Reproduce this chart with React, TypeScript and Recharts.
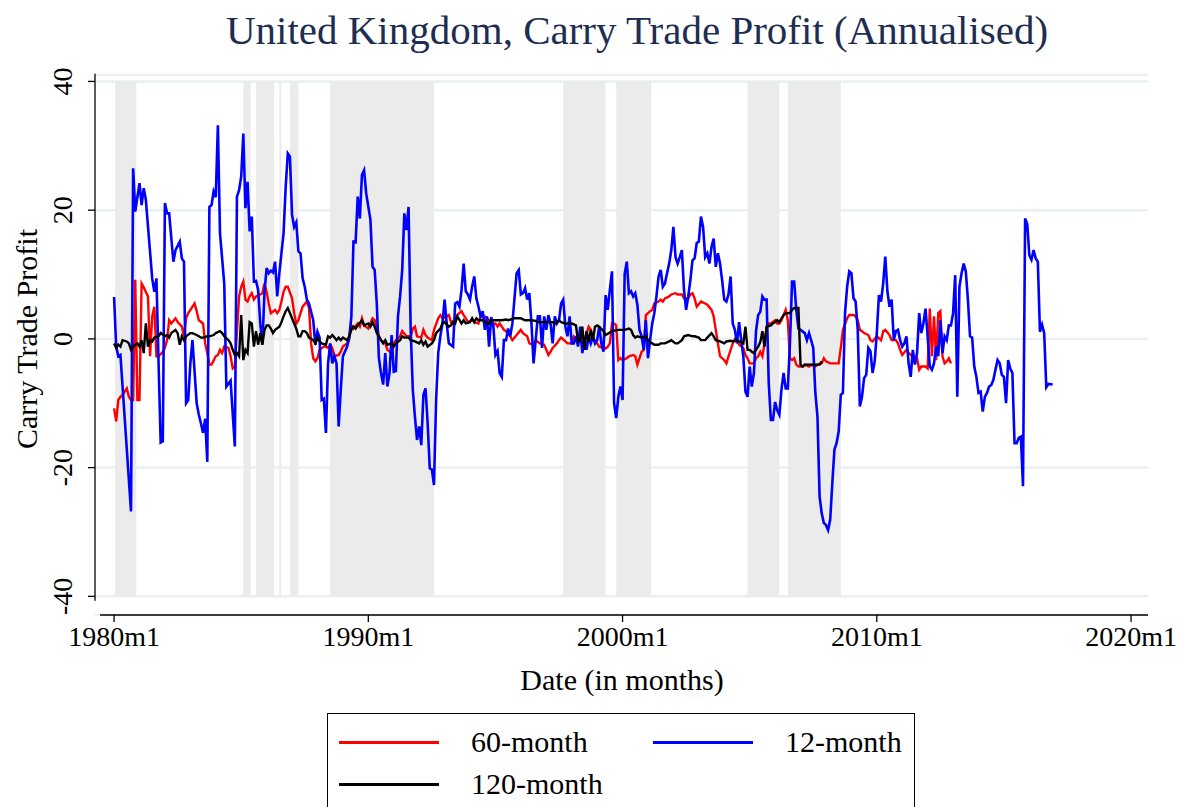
import { LineChart, Line, XAxis, YAxis, CartesianGrid, ReferenceArea, ReferenceLine } from "recharts";

const serif = "'Liberation Serif', 'Times New Roman', Times, serif";

// [months since 1980m1, annualised profit]
const sixtyMonth: [number, number][] = [
  [0, -10.8], [1, -12.8], [2, -9.5], [3, -9.0], [4, -8.7], [6, -7.7], [7, -9.0], [8, -9.5], [9, -9.5], [10, 9.2],
  [11, -9.5], [12, -9.5], [13, 8.6], [14, 8.0], [15, 7.3], [16, 6.6], [17, -2.7], [18, 3.5], [19, 5.0], [20, -2.7],
  [21, -2.7], [23, -2.0], [24, -1.4], [25, -0.2], [26, 2.9], [27, 2.4], [29, 3.2], [30, 2.6], [32, 1.9], [33, 0.4],
  [34, 3.2], [35, 4.0], [36, 4.5], [38, 5.5], [39, 4.3], [40, 2.9], [42, 2.4], [43, -0.7], [44, -2.2], [45, -4.0],
  [46, -4.0], [48, -2.7], [49, -2.5], [50, -1.7], [51, -2.2], [52, -1.2], [54, -1.4], [55, -2.7], [56, -4.6], [57, -4.3],
  [59, 6.6], [60, 8.1], [61, 8.9], [62, 6.1], [63, 5.8], [64, 6.6], [65, 7.1], [66, 6.1], [67, 6.6], [69, 6.9],
  [70, 7.1], [71, 8.6], [72, 7.3], [73, 5.5], [74, 4.0], [76, 4.5], [77, 4.0], [78, 4.5], [79, 5.8], [80, 7.3],
  [81, 8.1], [82, 8.1], [84, 6.3], [85, 4.0], [86, 2.4], [87, 2.9], [88, 4.0], [89, 5.0], [91, 5.8], [92, 4.8],
  [93, -0.7], [94, -3.0], [95, -3.5], [96, -3.0], [97, -1.7], [99, -1.2], [100, -1.2], [101, -1.4], [102, -0.9], [103, -1.4],
  [104, -2.7], [106, -2.5], [107, -2.0], [108, -1.2], [110, -0.7], [111, 0.4], [112, 2.1], [113, 1.6], [115, 2.4], [116, 1.9],
  [117, 3.2], [118, 2.1], [120, 1.6], [122, 3.2], [123, 2.9], [124, 1.9], [125, 0.4], [126, -0.2], [128, -0.7], [129, -1.7],
  [131, -2.2], [132, -0.7], [133, -0.2], [135, 0.4], [136, 1.2], [138, 0.4], [140, 0.4], [141, 1.6], [142, 1.9], [143, 0.4],
  [145, 0.2], [146, 1.4], [147, 0.6], [148, 0.2], [150, -0.2], [151, 1.4], [153, 3.2], [154, 3.7], [155, 3.2], [157, 3.5],
  [158, 3.7], [159, 2.6], [161, 2.9], [162, 3.7], [164, 4.3], [165, 3.7], [166, 3.2], [167, 2.6], [169, 2.9], [170, 2.6],
  [172, 2.4], [173, 3.5], [174, 3.7], [176, 3.2], [177, 2.9], [178, 2.1], [180, 2.4], [181, 1.9], [182, 2.4], [184, 1.4],
  [185, 1.2], [187, 0.4], [188, -0.2], [190, 0.6], [192, 1.4], [193, 0.9], [195, 0.4], [196, -0.7], [198, -0.9], [199, -0.2],
  [201, -0.7], [203, -0.9], [204, -1.7], [205, -2.5], [206, -2.0], [207, -1.4], [209, -0.7], [210, -0.2], [211, 0.2], [213, -0.4],
  [214, -0.7], [216, -0.7], [217, 0.4], [219, -0.2], [221, -0.7], [222, -0.2], [224, 1.9], [225, 1.4], [226, 0.2], [228, -0.7],
  [229, -1.2], [231, -1.4], [232, -1.5], [233, -1.2], [234, -0.7], [235, 2.4], [236, 2.4], [237, 2.1], [238, -3.3], [239, -3.0],
  [240, -3.3], [242, -3.0], [243, -2.7], [245, -2.5], [246, -2.7], [247, -4.0], [248, -3.0], [249, -2.0], [250, -1.7], [251, 3.7],
  [253, 4.3], [254, 4.5], [255, 5.5], [257, 5.8], [258, 6.1], [259, 5.8], [260, 6.3], [262, 6.6], [263, 6.9], [265, 7.1],
  [266, 6.9], [268, 6.9], [269, 6.3], [271, 6.3], [272, 6.9], [273, 7.1], [274, 6.3], [275, 5.0], [277, 5.8], [279, 5.5],
  [280, 5.3], [282, 4.5], [283, 3.5], [284, 1.4], [285, -0.7], [286, -2.7], [288, -3.3], [289, -3.8], [290, -2.7], [292, -0.7],
  [293, 0.0], [294, -0.2], [295, -0.9], [297, -1.4], [298, -2.5], [299, -3.0], [300, -3.8], [302, -3.8], [303, -3.0], [304, -2.7],
  [305, -2.0], [306, -2.7], [307, -0.7], [308, 1.9], [309, 2.4], [310, 2.4], [312, 2.9], [313, 2.4], [314, 2.4], [315, 2.9],
  [317, 4.5], [318, 2.9], [319, -3.0], [320, -3.3], [321, -3.0], [322, -4.0], [323, -4.3], [325, -4.3], [326, -4.0], [328, -4.3],
  [329, -4.0], [331, -4.3], [332, -4.0], [334, -3.8], [335, -3.0], [336, -3.5], [338, -3.8], [339, -3.8], [341, -3.8], [342, -3.8],
  [343, -1.4], [344, 1.4], [346, 3.2], [347, 3.7], [349, 3.7], [350, 3.5], [351, 2.9], [352, 1.4], [353, 1.2], [354, 0.9],
  [356, 0.6], [357, -0.2], [358, -0.4], [360, 0.4], [362, -0.2], [363, 1.2], [364, 1.4], [366, 0.6], [367, -0.2], [369, -0.2],
  [370, -0.7], [371, -1.7], [372, -2.5], [374, -1.7], [375, -2.2], [377, -2.7], [378, -3.0], [379, -3.0], [380, -4.8], [381, -4.3],
  [383, -4.3], [384, -4.6], [385, 4.7], [386, -2.7], [387, 3.5], [388, -3.3], [389, 4.0], [390, 4.3], [391, -2.7], [392, -3.8],
  [393, -3.5], [394, -3.0], [395, -3.8],
];

const twelveMonth: [number, number][] = [
  [0, 6.5], [1, -1.2], [2, -2.7], [3, -2.5], [8, -26.8], [9, 26.5], [10, 19.8], [12, 24.2], [13, 20.8], [14, 23.4],
  [15, 21.6], [18, 9.4], [19, 7.3], [20, 9.4], [21, -3.7], [22, -16.1], [23, -15.9], [24, 21.1], [25, 19.5], [26, 19.5],
  [28, 12.0], [29, 13.8], [31, 15.1], [32, 12.5], [33, 12.0], [34, -10.0], [35, -9.5], [36, -3.8], [37, -0.2], [39, -10.0],
  [40, -11.8], [41, -13.1], [42, -14.6], [43, -12.4], [44, -19.1], [45, 20.5], [46, 20.8], [47, 22.9], [48, 22.0], [49, 33.2],
  [50, 16.4], [52, 8.6], [53, -7.4], [55, -6.5], [57, -16.7], [58, 22.1], [59, 23.1], [60, 25.2], [61, 31.9], [62, 20.3],
  [63, 24.4], [64, 16.7], [65, 19.0], [66, 8.9], [67, 9.0], [68, 7.6], [69, 2.4], [70, -0.9], [71, 7.3], [72, 11.0],
  [73, 10.2], [74, 10.6], [75, 10.3], [76, 12.0], [77, 6.6], [78, 10.2], [80, 16.4], [81, 23.6], [82, 28.8], [83, 28.3],
  [84, 19.3], [85, 17.4], [86, 18.1], [87, 13.6], [88, 13.3], [89, 9.4], [90, 8.1], [91, 6.1], [92, 5.5], [94, 2.9],
  [95, -0.9], [96, 1.1], [97, 0.2], [98, -9.5], [99, -9.3], [100, -14.6], [101, -3.8], [102, -0.7], [103, -3.8], [104, -2.7],
  [105, -3.8], [106, -13.6], [107, -7.9], [108, -2.7], [110, -1.2], [111, 0.1], [112, 3.5], [113, 15.1], [114, 15.0], [115, 22.1],
  [116, 18.7], [117, 25.5], [118, 26.2], [119, 22.6], [121, 18.5], [122, 11.2], [123, 10.7], [124, 5.5], [125, -3.0], [126, -5.3],
  [127, -7.1], [128, -2.2], [129, -7.4], [130, -5.3], [131, 0.6], [132, -5.1], [133, -5.0], [134, 3.5], [135, 6.6], [136, 10.7],
  [137, 19.5], [138, 16.9], [139, 20.5], [140, 1.4], [141, -7.9], [142, -12.1], [143, -15.7], [144, -13.6], [145, -16.5], [146, -8.7],
  [147, -7.7], [148, -13.1], [149, -20.1], [150, -20.3], [151, -22.7], [152, -9.5], [153, -2.2], [154, 0.4], [155, 2.4], [156, 6.1],
  [157, 2.4], [158, -0.7], [160, -1.2], [161, 5.5], [162, 5.7], [163, 5.0], [164, 7.6], [165, 11.7], [166, 7.4], [167, 6.9],
  [168, 6.1], [169, 8.1], [170, 9.7], [171, 6.3], [172, 5.0], [173, 3.5], [174, 4.3], [175, 1.4], [176, 3.5], [177, -1.2],
  [178, 3.4], [179, 2.1], [180, -2.5], [181, -1.9], [182, -5.3], [183, -5.9], [184, -0.2], [185, -0.2], [186, 1.6], [187, 0.4],
  [188, 2.4], [190, 10.2], [191, 10.7], [192, 6.9], [193, 7.1], [194, 7.9], [195, 6.1], [196, 7.1], [197, 2.4], [198, -3.8],
  [199, -0.2], [200, 3.5], [201, 3.5], [202, -1.4], [203, 3.5], [204, 1.4], [205, 3.7], [206, 2.4], [207, -0.7], [208, 3.5],
  [209, 2.4], [210, 2.9], [211, 5.5], [212, 6.1], [213, 1.9], [214, 0.4], [215, 3.5], [216, -0.7], [217, -0.7], [218, 0.4],
  [219, -1.2], [220, 1.9], [221, -2.2], [222, -0.2], [223, -1.7], [224, 0.4], [225, -0.7], [226, 0.4], [227, -0.7], [228, -0.2],
  [229, 1.9], [230, -0.7], [231, -2.0], [232, 6.8], [233, 4.5], [234, 7.6], [235, 10.5], [236, -10.0], [237, -12.3], [238, -9.0],
  [239, -7.4], [240, -9.5], [241, 10.1], [242, 12.0], [243, 7.1], [244, 7.4], [245, 6.6], [246, 7.1], [247, 5.3], [248, 1.4],
  [249, 0.4], [250, -1.7], [251, 2.9], [252, -3.0], [253, -0.2], [254, 2.4], [255, 4.0], [256, 6.6], [257, 9.7], [258, 10.7],
  [259, 8.1], [260, 8.6], [261, 10.2], [262, 11.7], [263, 13.8], [264, 17.4], [265, 12.7], [266, 11.7], [267, 12.7], [268, 13.8],
  [269, 7.6], [270, 4.5], [271, 6.6], [272, 9.1], [273, 12.2], [274, 12.5], [275, 14.9], [276, 15.1], [277, 19.0], [278, 17.4],
  [279, 12.7], [280, 13.3], [281, 11.7], [282, 14.3], [283, 15.6], [284, 11.2], [285, 13.3], [286, 11.7], [287, 9.1], [288, 6.1],
  [289, 5.8], [290, 6.9], [291, 9.7], [292, 2.4], [293, 1.4], [294, -0.7], [295, 2.6], [296, -0.2], [297, -2.7], [298, -8.2],
  [299, -9.0], [300, -4.3], [301, -7.4], [302, -5.3], [303, 1.2], [304, 3.7], [305, 4.2], [306, 6.6], [307, 6.1], [308, 6.1],
  [309, -6.9], [310, -12.6], [311, -12.6], [312, -9.8], [313, -11.1], [314, -11.8], [315, -7.9], [316, -5.3], [317, -7.7], [318, -7.7],
  [319, -0.7], [320, 8.9], [321, 8.9], [322, 4.5], [323, 1.6], [324, 1.4], [326, 0.9], [327, -0.2], [328, 0.9], [329, -0.2],
  [330, -1.4], [331, -8.4], [332, -12.1], [333, -24.5], [334, -27.1], [335, -28.6], [336, -28.9], [337, -29.7], [338, -28.1], [339, -22.4],
  [340, -17.2], [341, -16.2], [342, -14.4], [343, -8.7], [344, -8.4], [345, 4.0], [346, 8.1], [347, 10.5], [348, 10.2], [349, 6.3],
  [350, 5.8], [351, 1.4], [352, -10.5], [353, -9.0], [354, -6.1], [355, -5.6], [356, -1.4], [357, -1.9], [358, -5.3], [359, -3.5],
  [360, 0.9], [361, 6.8], [362, 5.8], [363, 8.6], [364, 12.8], [365, 7.4], [366, 5.0], [367, 6.1], [368, -0.2], [369, 1.2],
  [370, 1.4], [371, -0.2], [372, -1.2], [373, -0.7], [374, 0.4], [375, -3.8], [376, -5.9], [377, -1.7], [378, -4.0], [379, -2.2],
  [380, 4.0], [381, 0.9], [382, 2.4], [383, 4.7], [384, 0.4], [385, -4.3], [386, -4.8], [387, -3.8], [388, -1.2], [389, -2.7],
  [390, 2.9], [391, -2.2], [392, 0.4], [393, -0.2], [394, 2.1], [395, 2.1], [396, 4.0], [397, 9.9], [398, -9.0], [399, 8.1],
  [400, 10.2], [401, 11.7], [402, 10.5], [403, 6.1], [404, 0.4], [405, 0.2], [406, -4.3], [407, -5.9], [408, -8.4], [409, -8.2],
  [410, -11.3], [411, -9.0], [412, -8.4], [413, -7.4], [414, -7.2], [415, -6.4], [416, -4.8], [417, -3.3], [418, -3.8], [419, -5.6],
  [420, -5.9], [421, -10.0], [422, -3.3], [423, -4.6], [424, -5.3], [425, -16.2], [426, -16.2], [427, -15.4], [428, -15.2], [429, -22.9],
  [430, 18.7], [431, 17.9], [432, 13.0], [433, 12.3], [434, 13.8], [435, 12.5], [436, 12.0], [437, 1.1], [438, 2.2], [439, 0.9],
  [440, -7.5], [441, -7.0], [443, -7.1],
];

const oneTwentyMonth: [number, number][] = [
  [0, -0.7], [1, -1.4], [2, -0.9], [3, -1.2], [4, -0.2], [6, -0.4], [7, -0.7], [8, -1.7], [10, -0.9], [11, -0.7],
  [12, -1.2], [13, -0.2], [14, -2.2], [15, 2.4], [16, -1.2], [17, -0.2], [18, -0.4], [19, 0.2], [21, 0.4], [22, 0.9],
  [24, 0.4], [25, 0.6], [26, 0.2], [27, 0.9], [29, 1.4], [30, 0.9], [31, -0.9], [32, 0.4], [33, -0.2], [34, 0.4],
  [36, 0.9], [37, 0.9], [39, 0.6], [41, 0.2], [42, 0.2], [44, 0.4], [45, 0.4], [47, 0.6], [48, 0.9], [50, 1.2],
  [51, 0.9], [52, 0.4], [54, -0.2], [55, -0.7], [56, -1.7], [57, -2.5], [58, -2.2], [59, -2.7], [60, 3.7], [61, -3.3],
  [62, -1.7], [63, -2.2], [64, 2.6], [65, 2.4], [66, -1.2], [67, 1.2], [68, -0.9], [69, 0.9], [70, -0.9], [71, 1.4],
  [72, 2.1], [73, 2.1], [74, 1.6], [75, 0.9], [76, 1.4], [78, 1.9], [79, 2.6], [80, 3.5], [81, 4.3], [82, 4.8],
  [83, 4.0], [84, 3.2], [85, 2.4], [86, 1.6], [87, 0.4], [88, 0.4], [89, 1.2], [90, 1.2], [91, 0.9], [92, 0.2],
  [94, -0.2], [95, -0.7], [96, 0.2], [97, -0.4], [98, -0.7], [100, -0.9], [101, 0.4], [102, 0.2], [103, 0.6], [104, 0.2],
  [105, -0.2], [106, 0.2], [107, -0.2], [108, 0.2], [110, -0.2], [111, 0.4], [112, 1.4], [113, 1.9], [114, 1.6], [115, 2.1],
  [117, 2.9], [118, 2.1], [120, 2.4], [121, 1.9], [122, 2.6], [123, 1.9], [124, 0.9], [126, -0.2], [127, -0.7], [128, -0.2],
  [129, -0.9], [131, -0.7], [132, -1.2], [133, -0.7], [135, -0.2], [136, 0.4], [137, 0.2], [139, 0.2], [140, -0.2], [142, -0.4],
  [144, -0.7], [145, -0.2], [146, -0.9], [147, -0.4], [148, -1.2], [150, -0.7], [151, -0.2], [152, 0.9], [154, 1.6], [155, 2.4],
  [156, 2.6], [158, 1.9], [159, 2.1], [160, 2.6], [161, 2.4], [162, 3.5], [164, 2.4], [165, 2.9], [166, 2.4], [168, 2.6],
  [169, 3.2], [170, 2.6], [171, 3.2], [172, 2.9], [174, 2.9], [176, 2.4], [177, 2.4], [178, 2.9], [180, 2.9], [183, 2.9],
  [185, 3.0], [186, 2.9], [189, 3.2], [192, 3.2], [194, 2.9], [197, 2.9], [199, 2.8], [200, 2.6], [204, 2.6], [207, 2.6],
  [208, 2.4], [210, 2.9], [211, 2.6], [213, 2.4], [216, 2.4], [218, 2.1], [219, -0.4], [220, -0.2], [221, 1.9], [222, -1.7],
  [223, 1.2], [224, -0.4], [225, 1.4], [226, -0.2], [227, 1.9], [228, 2.1], [229, 1.9], [231, 1.2], [232, 0.6], [233, 0.8],
  [235, 1.2], [238, 1.4], [241, 1.4], [243, 1.6], [244, 1.4], [245, 0.6], [246, 0.2], [247, 0.4], [249, 0.2], [251, 0.4],
  [252, -0.2], [254, -0.7], [255, -0.9], [257, -0.9], [258, -0.7], [260, -0.7], [262, -0.4], [263, -0.2], [265, -0.7], [266, -0.7],
  [268, -0.2], [269, 0.4], [271, 0.6], [273, 0.4], [274, 0.4], [276, 0.2], [277, -0.2], [279, -0.2], [280, 0.2], [282, 0.9],
  [283, 0.4], [284, -0.2], [286, -0.4], [288, -0.7], [289, -0.4], [291, -0.3], [292, -0.4], [294, -0.2], [295, -0.4], [297, -0.7],
  [298, 1.9], [299, -1.7], [300, -1.7], [301, -2.0], [302, -2.2], [303, -1.7], [304, -1.2], [305, -0.5], [306, 1.2], [307, -1.2],
  [308, 1.9], [309, 2.0], [310, 2.1], [311, 2.4], [312, 2.6], [313, 2.9], [314, 2.6], [315, 3.2], [316, 3.7], [317, 4.0],
  [319, 4.0], [320, 4.5], [321, 4.8], [323, 4.8], [324, -4.0], [325, -4.3], [326, -4.0], [328, -4.0], [330, -4.0], [332, -4.0],
  [333, -4.0], [334, -3.5],
];

// shaded periods, [start, end] in months since 1980m1
const shadedPeriods: [number, number][] = [
  [0.5, 10.5], [61, 64.5], [67, 75.5], [78, 79], [83, 87], [102, 151], [212, 232], [237, 253.5], [299, 314], [318, 343],
];

const xTicks = [0, 120, 240, 360, 480];
const xTickLabels = ["1980m1", "1990m1", "2000m1", "2010m1", "2020m1"];
const yTicks = [-40, -20, 0, 20, 40];

function buildRows() {
  const rows = new Map<number, Record<string, number>>();
  const add = (key: string, series: [number, number][]) => {
    series.forEach(([m, v]) => {
      const row = rows.get(m) ?? { m };
      row[key] = v;
      rows.set(m, row);
    });
  };
  add("sixty", sixtyMonth);
  add("twelve", twelveMonth);
  add("oneTwenty", oneTwentyMonth);
  return [...rows.values()].sort((a, b) => a.m - b.m);
}

// eslint-disable-next-line @typescript-eslint/no-explicit-any
function YTick(props: any) {
  const { x, y, payload } = props;
  const bx = x - 14;
  return (
    <text x={bx} y={y} transform={`rotate(-90 ${bx} ${y})`} textAnchor="middle"
      fontFamily={serif} fontSize={28} fill="#000">
      {payload.value}
    </text>
  );
}

const legendItems = [
  { label: "60-month", color: "#ff0000", left: 11, top: 13 },
  { label: "12-month", color: "#0000ff", left: 325, top: 13 },
  { label: "120-month", color: "#000000", left: 11, top: 55 },
];

const axisStroke = { stroke: "#000", strokeWidth: 1.3 };

export default function App() {
  const rows = buildRows();
  return (
    <div style={{ position: "absolute", left: 0, top: 0, width: 1179, height: 807, overflow: "hidden", background: "#fff" }}>
      <LineChart width={1179} height={807} data={rows} margin={{ top: 75, right: 31, left: 35, bottom: 152 }}>
        <CartesianGrid vertical={false} stroke="#e8f0f2" strokeWidth={2.5} />
        {shadedPeriods.map(([a, b], i) => (
          <ReferenceArea key={i} x1={a} x2={b} y1={-40} y2={40} fill="#ebebeb" fillOpacity={1} stroke="none" />
        ))}
        <XAxis dataKey="m" type="number" domain={[-9, 488]} ticks={xTicks} allowDataOverflow
          tickFormatter={(v: number) => xTickLabels[xTicks.indexOf(v)]}
          height={40} tickSize={7} tickMargin={4}
          axisLine={false} tickLine={axisStroke}
          tick={{ fontSize: 28, fontFamily: serif, fill: "#000" }} />
        <YAxis type="number" domain={[-42.9, 41]} ticks={yTicks} allowDataOverflow width={60}
          tickSize={7} axisLine={false} tickLine={axisStroke}
          tick={<YTick />} />
        <ReferenceLine segment={[{ x: -9, y: 41.2 }, { x: -9, y: -40.7 }]} ifOverflow="visible" {...axisStroke} />
        <ReferenceLine segment={[{ x: -6.6, y: -42.9 }, { x: 488, y: -42.9 }]} ifOverflow="visible" {...axisStroke} />
        <Line type="linear" dataKey="sixty" stroke="#ff0000" strokeWidth={2.4} dot={false} connectNulls isAnimationActive={false} />
        <Line type="linear" dataKey="twelve" stroke="#0000ff" strokeWidth={2.6} dot={false} connectNulls isAnimationActive={false} />
        <Line type="linear" dataKey="oneTwenty" stroke="#000000" strokeWidth={2.4} dot={false} connectNulls isAnimationActive={false} />
      </LineChart>

      <div style={{ position: "absolute", left: 37, top: 8, width: 1200, textAlign: "center", fontFamily: serif, fontSize: 41, lineHeight: "44px", color: "#1e2d52", whiteSpace: "nowrap" }}>
        United Kingdom, Carry Trade Profit (Annualised)
      </div>
      <div style={{ position: "absolute", left: 322, top: 665, width: 600, textAlign: "center", fontFamily: serif, fontSize: 30, lineHeight: "30px", color: "#000" }}>
        Date (in months)
      </div>
      <div style={{ position: "absolute", left: 27 - 200, top: 339 - 15, width: 400, textAlign: "center", fontFamily: serif, fontSize: 30, lineHeight: "30px", color: "#000", transform: "rotate(-90deg)" }}>
        Carry Trade Profit
      </div>

      <div style={{ position: "absolute", left: 327, top: 713, width: 588, height: 130, border: "1.5px solid #000", boxSizing: "border-box" }}>
        {legendItems.map((it) => (
          <div key={it.label}>
            <div style={{ position: "absolute", left: it.left, top: it.top + 14, width: 100, height: 3, background: it.color }} />
            <div style={{ position: "absolute", left: it.left + 132, top: it.top, fontFamily: serif, fontSize: 30, lineHeight: "30px", color: "#000", whiteSpace: "nowrap" }}>
              {it.label}
            </div>
          </div>
        ))}
      </div>
    </div>
  );
}
